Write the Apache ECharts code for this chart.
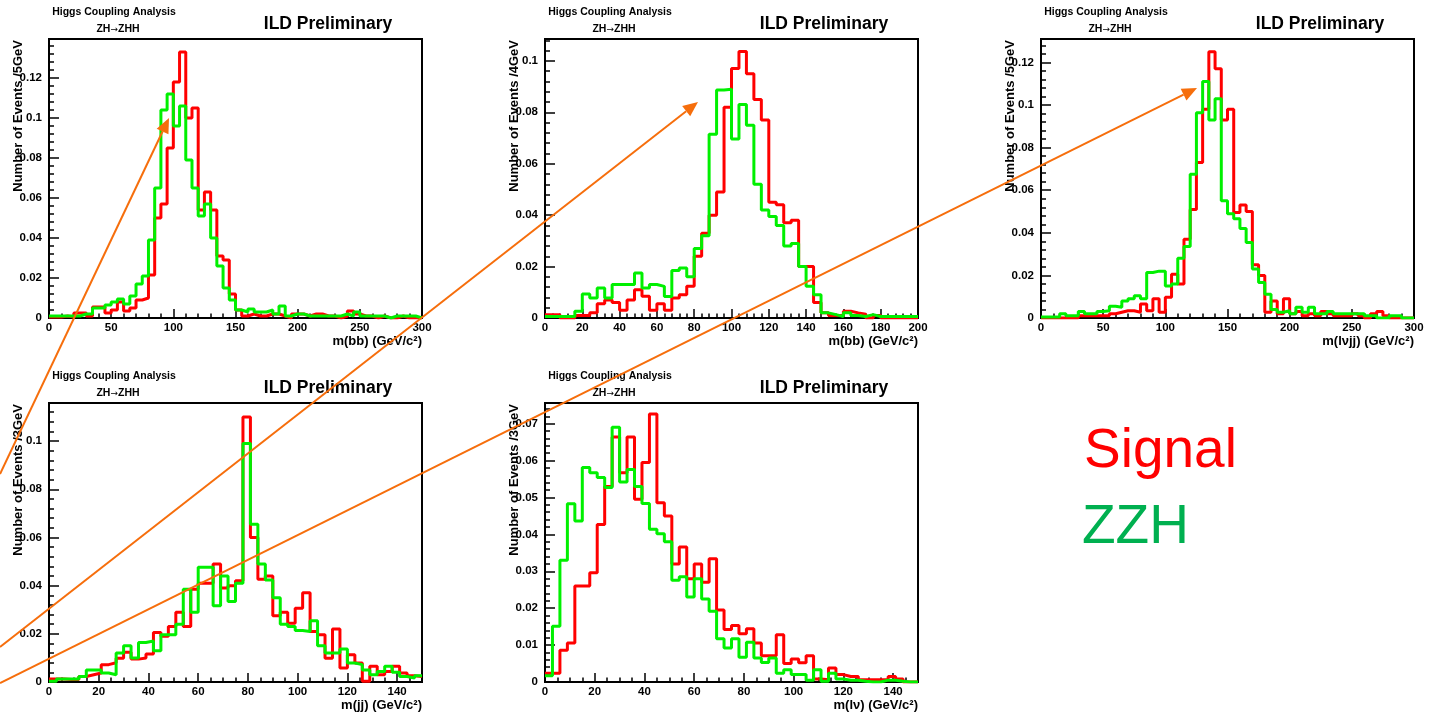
<!DOCTYPE html>
<html><head><meta charset="utf-8">
<script src="https://cdn.jsdelivr.net/npm/echarts@6/dist/echarts.min.js"></script>
<style>html,body{margin:0;padding:0;background:#fff}#c{width:1430px;height:712px}</style>
</head><body><div id="c"></div><script>
// ---- Panel 1: m(bb), 5 GeV bins, 0-300
const sigBB5 = [
 0.0005,0.0005,0.001,0.0005,0.0025,0.0025,0.001,0.0055,0.0055,0.0025,
 0.004,0.008,0.0035,0.005,0.009,0.010,0.0215,0.050,0.057,0.085,
 0.118,0.133,0.100,0.105,0.054,0.063,0.054,0.031,0.029,0.012,
 0.004,0.001,0.002,0.001,0.001,0.002,0.002,0.001,0.000,0.002,
 0.002,0.001,0.002,0.002,0.001,0.001,0.000,0.001,0.0035,0.002,
 0.001,0.001,0.000,0.001,0.000,0.000,0.001,0.000,0.000,0.000];
const zzhBB5 = [
 0.001,0.001,0.001,0.001,0.001,0.002,0.002,0.005,0.005,0.0065,
 0.008,0.0095,0.007,0.011,0.017,0.021,0.039,0.065,0.104,0.112,
 0.096,0.106,0.079,0.065,0.051,0.057,0.040,0.026,0.015,0.009,
 0.004,0.003,0.0045,0.003,0.003,0.004,0.002,0.006,0.001,0.002,
 0.002,0.001,0.001,0.001,0.001,0.001,0.001,0.002,0.001,0.003,
 0.001,0.001,0.001,0.001,0.000,0.001,0.001,0.001,0.001,0.000];
// ---- Panel 2: m(bb), 4 GeV bins, 0-200
const sigBB4 = [
 0.0013,0.0013,0.000,0.000,0.001,0.001,0.002,0.0055,0.007,0.006,
 0.003,0.007,0.011,0.0085,0.003,0.0055,0.003,0.0078,0.009,0.0123,
 0.024,0.033,0.040,0.049,0.082,0.097,0.1036,0.095,0.085,0.077,
 0.045,0.044,0.037,0.038,0.020,0.020,0.006,0.002,0.001,0.001,
 0.0026,0.002,0.0015,0.000,0.001,0.000,0.000,0.000,0.000,0.000];
const zzhBB4 = [
 0.0006,0.0006,0.0006,0.0006,0.0026,0.0093,0.0078,0.0117,0.0078,0.013,
 0.013,0.013,0.0175,0.0117,0.013,0.0123,0.0084,0.0185,0.0194,0.016,
 0.027,0.032,0.0715,0.0887,0.089,0.0696,0.083,0.075,0.052,0.042,
 0.0395,0.036,0.028,0.029,0.020,0.0123,0.009,0.002,0.0013,0.0006,
 0.002,0.001,0.0006,0.0013,0.0006,0.0006,0.0006,0.0006,0.0006,0.0006];
// ---- Panel 3: m(l nu jj), 5 GeV bins, 0-300
const sigLVJJ = [
 0,0,0,0,0,0,0.001,0.001,0.001,0.001,
 0.001,0.002,0.0027,0.0034,0.0034,0.0027,0.0066,0.0034,0.009,0.0027,
 0.0097,0.0206,0.016,0.037,0.051,0.073,0.098,0.125,0.117,0.093,
 0.098,0.0495,0.053,0.050,0.025,0.020,0.0027,0.008,0.002,0.009,
 0.002,0.003,0.001,0.002,0.001,0.003,0.002,0.001,0.001,0.001,
 0.002,0.001,0.000,0.002,0.003,0.001,0.000,0.000,0.000,0.000];
const zzhLVJJ = [
 0.0005,0.0005,0.0005,0.002,0.001,0.001,0.003,0.002,0.002,0.003,
 0.0034,0.0055,0.005,0.008,0.009,0.0105,0.009,0.0214,0.022,0.022,
 0.015,0.016,0.028,0.0336,0.0675,0.0964,0.111,0.093,0.103,0.055,
 0.049,0.0466,0.042,0.0355,0.023,0.0167,0.0112,0.004,0.0027,0.0034,
 0.002,0.005,0.0027,0.005,0.002,0.002,0.003,0.002,0.002,0.002,
 0.002,0.002,0.001,0.001,0.000,0.000,0.001,0.001,0.000,0.000];
// ---- Panel 4: m(jj), 3 GeV bins, 0-150
const sigJJ = [
 0.0012,0.0012,0.001,0.001,0.0023,0.003,0.0037,0.0072,0.008,0.0099,
 0.0123,0.0095,0.010,0.0116,0.0205,0.019,0.023,0.029,0.023,0.0385,
 0.041,0.041,0.049,0.039,0.040,0.042,0.110,0.060,0.0426,0.044,
 0.0275,0.029,0.0244,0.0306,0.037,0.021,0.0196,0.0099,0.022,0.0058,
 0.0113,0.0079,0.0003,0.0065,0.003,0.0044,0.0065,0.0037,0.0026,0.0023];
const zzhJJ = [
 0.0003,0.0012,0.0012,0.0012,0.0023,0.005,0.005,0.0037,0.003,0.012,
 0.015,0.010,0.0164,0.017,0.013,0.0196,0.0196,0.024,0.0385,0.029,
 0.0476,0.0476,0.0316,0.044,0.0334,0.041,0.099,0.0655,0.049,0.0423,
 0.035,0.024,0.023,0.0214,0.021,0.0254,0.015,0.012,0.012,0.0137,
 0.0079,0.0072,0.005,0.003,0.0044,0.0065,0.004,0.0023,0.0017,0.0026];
// ---- Panel 5: m(l nu), 3 GeV bins, 0-150
const sigLV = [
 0.0024,0.0024,0.0086,0.0106,0.026,0.026,0.0296,0.0427,0.053,0.0664,
 0.0567,0.0664,0.0495,0.0595,0.0726,0.0486,0.045,0.032,0.0366,0.028,
 0.032,0.027,0.0334,0.0195,0.0142,0.0153,0.0131,0.0144,0.0106,0.0071,
 0.0071,0.0128,0.005,0.0062,0.0052,0.0071,0.0008,0.0006,0.0038,0.002,
 0.0015,0.0015,0.0006,0.0006,0.0006,0.0006,0.0015,0.0008,0.000,0.000];
const zzhLV = [
 0.0017,0.0151,0.033,0.0483,0.0436,0.0581,0.0567,0.0554,0.0527,0.069,
 0.0542,0.0576,0.053,0.0484,0.0414,0.0402,0.038,0.0276,0.0285,0.023,
 0.028,0.0225,0.0192,0.0117,0.0092,0.0117,0.0067,0.0108,0.0065,0.0053,
 0.0065,0.0024,0.0033,0.002,0.002,0.0005,0.0033,0.0002,0.0024,0.0008,
 0.0005,0.0005,0.0002,0.000,0.000,0.0005,0.0005,0.0002,0.000,0.000];

const yNames = ['Number of Events /5GeV','Number of Events /4GeV','Number of Events /5GeV','Number of Events /3GeV','Number of Events /3GeV'];
const xNames = ['m(bb) (GeV/c\u00B2)','m(bb) (GeV/c\u00B2)','m(l\u03BDjj) (GeV/c\u00B2)','m(jj) (GeV/c\u00B2)','m(l\u03BD) (GeV/c\u00B2)'];
const legendTexts = ['Signal','ZZH'];

const W = 373, H = 279;
const panels = [
 {left:49,  top:39,  xMax:300, xInt:50, xMinor:5, bin:5, yMax:0.1395, yInt:0.02, sig:sigBB5, zzh:zzhBB5},
 {left:545, top:39,  xMax:200, xInt:20, xMinor:5, bin:4, yMax:0.1085, yInt:0.02, sig:sigBB4, zzh:zzhBB4},
 {left:1041,top:39,  xMax:300, xInt:50, xMinor:5, bin:5, yMax:0.131,  yInt:0.02, sig:sigLVJJ, zzh:zzhLVJJ},
 {left:49,  top:403, xMax:150, xInt:20, xMinor:4, bin:3, yMax:0.1158, yInt:0.02, sig:sigJJ, zzh:zzhJJ},
 {left:545, top:403, xMax:150, xInt:20, xMinor:4, bin:3, yMax:0.0756, yInt:0.01, sig:sigLV, zzh:zzhLV}
];
const FONT = '"Liberation Sans", Arial, sans-serif';
const RED = '#ff0000', GREEN = '#00f000', ORANGE = '#f66e0c';

function multipleFmt(step){
  return v => { const k = v/step; if (Math.abs(k-Math.round(k)) > 1e-6) return ''; return String(+v.toFixed(4)); };
}
function histData(vals, bin){
  const d = vals.map((v,i)=>[i*bin, v]);
  d.push([vals.length*bin, vals[vals.length-1]]);
  return d;
}
const grid=[], xAxis=[], yAxis=[], series=[], graphic=[];
panels.forEach((p,i)=>{
  grid.push({left:p.left, top:p.top, width:W, height:H, show:true, borderColor:'#000', borderWidth:2, backgroundColor:'transparent', containLabel:false, outerBoundsMode:'none'});
  const lbl = {color:'#000', fontFamily:FONT, fontWeight:'bold', fontSize:11.5};
  xAxis.push({type:'value', gridIndex:i, min:0, max:p.xMax, interval:p.xInt,
    axisLine:{show:false}, splitLine:{show:false},
    axisTick:{show:true, inside:true, length:9, lineStyle:{color:'#000', width:1.5}},
    minorTick:{show:true, splitNumber:p.xMinor, length:4.5, lineStyle:{color:'#000', width:1.5}},
    axisLabel:Object.assign({margin:4, formatter:multipleFmt(p.xInt), showMaxLabel: p.xMax % p.xInt === 0}, lbl)});
  yAxis.push({type:'value', gridIndex:i, min:0, max:p.yMax, interval:p.yInt,
    axisLine:{show:false}, splitLine:{show:false},
    axisTick:{show:true, inside:true, length:10, lineStyle:{color:'#000', width:1.5}},
    minorTick:{show:true, splitNumber:5, length:5, lineStyle:{color:'#000', width:1.5}},
    axisLabel:Object.assign({margin:7, formatter:multipleFmt(p.yInt), showMaxLabel:false}, lbl)});
  series.push({type:'line', name:'Signal', xAxisIndex:i, yAxisIndex:i, step:'end', symbol:'none',
    data:histData(p.sig,p.bin), lineStyle:{color:RED, width:3}, z:2});
  series.push({type:'line', name:'ZZH', xAxisIndex:i, yAxisIndex:i, step:'end', symbol:'none',
    data:histData(p.zzh,p.bin), lineStyle:{color:GREEN, width:3}, z:3});
  const txt = (x,y,text,size,align,extra,rich)=>Object.assign({type:'text', x, y, z:50,
    style:Object.assign({text, font:'bold '+size+'px '+FONT, fill:'#000', textAlign:align, align, textVerticalAlign:'middle', verticalAlign:'middle'}, rich?{rich}:{})}, extra||{});
  graphic.push(txt(p.left+65, p.top-26.5, 'Higgs Coupling Analysis', 10.5, 'center'));
  graphic.push(txt(p.left+69, p.top-9.5, 'ZH{a|\u2192}ZHH', 10.5, 'center', null,
    {a:{font:'9px "DejaVu Sans", sans-serif', fill:'#000', verticalAlign:'middle'}}));
  graphic.push(txt(p.left+279, p.top-15, 'ILD Preliminary', 17.5, 'center'));
  graphic.push(txt(p.left+W, p.top+H+23, xNames[i], 13, 'right'));
  graphic.push(txt(p.left-31, p.top+1, yNames[i], 13, 'right', {rotation:Math.PI/2}));
});

// annotation arrows (pixel positions of the overlay drawing)
const arrows = [
  {from:[0,474], to:[169,118]},
  {from:[0,647], to:[698,102]},
  {from:[0,683], to:[1197,88]}
];
arrows.forEach(a=>{
  const dx=a.to[0]-a.from[0], dy=a.to[1]-a.from[1], len=Math.hypot(dx,dy);
  const ux=dx/len, uy=dy/len, L=15, hw=6.5;
  const bx=a.to[0]-ux*L, by=a.to[1]-uy*L;
  graphic.push({type:'line', z:60, shape:{x1:a.from[0], y1:a.from[1], x2:bx, y2:by}, style:{stroke:ORANGE, lineWidth:2}});
  graphic.push({type:'polygon', z:60, shape:{points:[[a.to[0],a.to[1]],[bx-uy*hw, by+ux*hw],[bx+uy*hw, by-ux*hw]]}, style:{fill:ORANGE}});
});
graphic.push({type:'text', x:1084, y:452, z:50, style:{text:legendTexts[0], font:'55px '+FONT, fill:RED, textAlign:'left', align:'left', textVerticalAlign:'middle', verticalAlign:'middle'}});
graphic.push({type:'text', x:1082, y:528, z:50, style:{text:legendTexts[1], font:'55px '+FONT, fill:'#00b050', textAlign:'left', align:'left', textVerticalAlign:'middle', verticalAlign:'middle'}});

const chart = echarts.init(document.getElementById('c'), null, {renderer:'canvas'});
chart.setOption({animation:false, backgroundColor:'#fff', grid, xAxis, yAxis, series, graphic});
</script></body></html>
